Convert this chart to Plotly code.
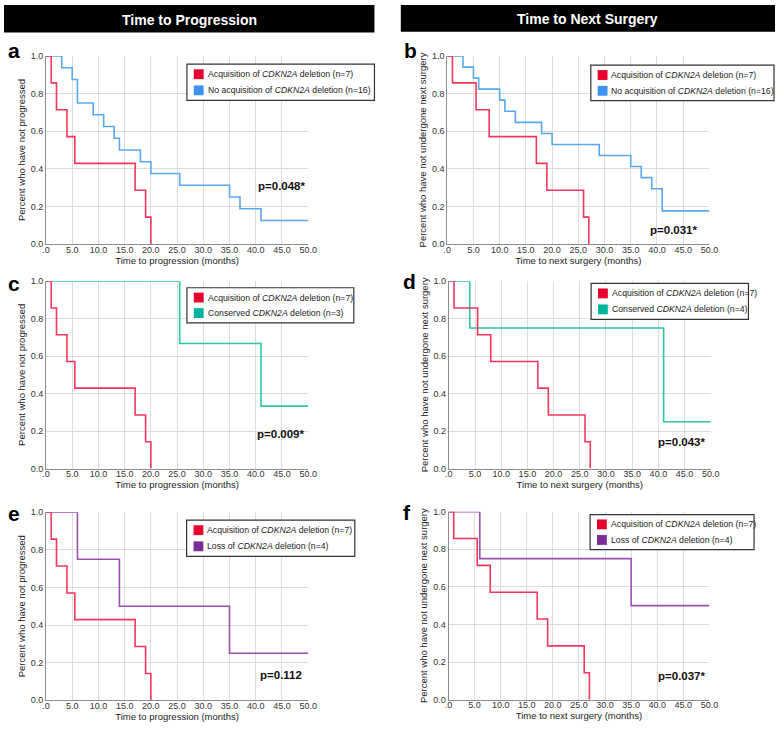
import plotly.graph_objects as go

W, H = 784, 729

# ---------------- data ----------------
x_ticks = [0, 5, 10, 15, 20, 25, 30, 35, 40, 45, 50]
x_ticklabels = [".0", "5.0", "10.0", "15.0", "20.0", "25.0", "30.0", "35.0", "40.0", "45.0", "50.0"]
y_ticks = [0.0, 0.2, 0.4, 0.6, 0.8, 1.0]
y_ticklabels = ["0.0", "0.2", "0.4", "0.6", "0.8", "1.0"]

# Time to progression
prog_acq_time = [0, 1, 2, 4, 5.5, 17, 19, 20]
prog_acq_surv = [1.0, 0.857, 0.714, 0.571, 0.429, 0.286, 0.143, 0.0]
prog_noacq_time = [0, 3, 5, 6, 9, 11, 13, 14, 18, 20, 25.5, 35, 37, 41, 50]
prog_noacq_surv = [1.0, 0.9375, 0.875, 0.75, 0.6875, 0.625, 0.5625, 0.5, 0.4375, 0.375, 0.3125, 0.25, 0.1875, 0.125, 0.125]
prog_cons_time = [0, 25.5, 41, 50]
prog_cons_surv = [1.0, 0.667, 0.333, 0.333]
prog_loss_time = [0, 6, 14, 35, 50]
prog_loss_surv = [1.0, 0.75, 0.5, 0.25, 0.25]

# Time to next surgery
surg_acq_time = [0, 1, 5.5, 8, 17, 19, 26, 27]
surg_acq_surv = [1.0, 0.857, 0.714, 0.571, 0.429, 0.286, 0.143, 0.0]
surg_noacq_time = [0, 3, 5, 6, 10, 11, 13, 18, 20, 29, 35, 37, 39, 41, 50]
surg_noacq_surv = [1.0, 0.941, 0.882, 0.824, 0.765, 0.706, 0.647, 0.588, 0.529, 0.471, 0.412, 0.353, 0.294, 0.176, 0.176]
surg_cons_time = [0, 4, 41, 50]
surg_cons_surv = [1.0, 0.75, 0.25, 0.25]
surg_loss_time = [0, 6, 35, 50]
surg_loss_surv = [1.0, 0.75, 0.5, 0.5]

label_acq = "Acquisition of <i>CDKN2A</i> deletion (n=7)"
label_noacq = "No acquisition of <i>CDKN2A</i> deletion (n=16)"
label_cons3 = "Conserved <i>CDKN2A</i> deletion (n=3)"
label_cons4 = "Conserved <i>CDKN2A</i> deletion (n=4)"
label_loss = "Loss of <i>CDKN2A</i> deletion (n=4)"

p_values = ["p=0.048*", "p=0.031*", "p=0.009*", "p=0.043*", "p=0.112", "p=0.037*"]
panel_letters = ["a", "b", "c", "d", "e", "f"]
headers = ["Time to Progression", "Time to Next Surgery"]
ytitle_prog = "Percent who have not progressed"
ytitle_surg = "Percent who have not undergone next surgery"
xtitle_prog = "Time to progression (months)"
xtitle_surg = "Time to next surgery (months)"

# ---------------- styles ----------------
RED_L, RED_S = "#f3375c", "#e6002d"
BLUE_L, BLUE_S = "#5aa8f0", "#3b95ee"
TEAL_L, TEAL_S = "#2cc5aa", "#00b49b"
PURP_L, PURP_S = "#9a4fb2", "#7a2c97"
FONT = "Liberation Sans, Arial, sans-serif"

def px(x):
    return x / W

def py(y):
    return 1 - y / H

# plot-area boxes (pixels): x0, x1, y0(top), y1(bottom)
boxes = [
    (42.7, 309.3, 51.7, 242.3),
    (450.7, 717.3, 51.7, 242.3),
    (42.7, 309.3, 280.0, 470.0),
    (452.3, 718.7, 280.0, 470.0),
    (42.7, 309.3, 514.3, 705.0),
    (452.0, 717.3, 513.7, 704.3),
]

panels = [
    [(prog_acq_time, prog_acq_surv, RED_L, RED_S, label_acq), (prog_noacq_time, prog_noacq_surv, BLUE_L, BLUE_S, label_noacq)],
    [(surg_acq_time, surg_acq_surv, RED_L, RED_S, label_acq), (surg_noacq_time, surg_noacq_surv, BLUE_L, BLUE_S, label_noacq)],
    [(prog_acq_time, prog_acq_surv, RED_L, RED_S, label_acq), (prog_cons_time, prog_cons_surv, TEAL_L, TEAL_S, label_cons3)],
    [(surg_acq_time, surg_acq_surv, RED_L, RED_S, label_acq), (surg_cons_time, surg_cons_surv, TEAL_L, TEAL_S, label_cons4)],
    [(prog_acq_time, prog_acq_surv, RED_L, RED_S, label_acq), (prog_loss_time, prog_loss_surv, PURP_L, PURP_S, label_loss)],
    [(surg_acq_time, surg_acq_surv, RED_L, RED_S, label_acq), (surg_loss_time, surg_loss_surv, PURP_L, PURP_S, label_loss)],
]

# legend boxes (pixels): x0, x1, y0, y1
legend_boxes = [
    (186.0, 376.7, 60.0, 96.7),
    (596.7, 783.0, 61.0, 97.0),
    (186.0, 355.7, 286.7, 322.3),
    (597.0, 757.0, 282.3, 318.7),
    (185.7, 356.7, 522.3, 559.0),
    (596.0, 762.7, 516.7, 552.3),
]
# p-value anchor (right x, center y)
p_pos = [(309.3, 184.0), (708.0, 228.0), (308.3, 435.0), (716.0, 443.0), (305.0, 679.5), (716.0, 680.0)]
letter_pos = [(2, 46), (405, 46), (2, 282), (404, 280), (2, 516), (404, 515)]

fig = go.Figure()
layout = dict(
    width=W, height=H, autosize=False,
    margin=dict(l=0, r=0, t=0, b=0),
    paper_bgcolor="white", plot_bgcolor="white",
    showlegend=False,
    font=dict(family=FONT, size=9, color="#222"),
)
shapes = []
annotations = []

for i, (box, series) in enumerate(zip(boxes, panels)):
    n = i + 1
    xa = "xaxis" if n == 1 else f"xaxis{n}"
    ya = "yaxis" if n == 1 else f"yaxis{n}"
    xref = "x" if n == 1 else f"x{n}"
    yref = "y" if n == 1 else f"y{n}"
    x0, x1, y0, y1 = box
    is_prog = (i % 2 == 0)
    layout[xa] = dict(
        domain=[px(x0), px(x1)], anchor=yref, range=[0, 50],
        tickvals=x_ticks, ticktext=x_ticklabels,
        showgrid=True, gridcolor="#dcdcdc", gridwidth=1,
        showline=True, linecolor="#8c8c8c", linewidth=1,
        zeroline=False, ticks="", ticklen=0, ticklabelstandoff=-3,
        tickfont=dict(size=9, color="#333"),
        title=dict(text=xtitle_prog if is_prog else xtitle_surg, font=dict(size=9.5, color="#222"), standoff=0),
        fixedrange=True,
    )
    layout[ya] = dict(
        domain=[py(y1), py(y0)], anchor=xref, range=[0, 1],
        tickvals=y_ticks, ticktext=y_ticklabels,
        showgrid=True, gridcolor="#dcdcdc", gridwidth=1,
        showline=True, linecolor="#8c8c8c", linewidth=1,
        zeroline=False, ticks="", ticklen=0,
        tickfont=dict(size=9, color="#333"),
        title=dict(text=ytitle_prog if is_prog else ytitle_surg, font=dict(size=9.5, color="#222"), standoff=3),
        fixedrange=True,
    )
    # draw second series first, red on top
    for t, s, lc, sc, name in reversed(series):
        fig.add_trace(go.Scatter(
            x=t, y=s, mode="lines", line=dict(color=lc, width=1.6, shape="hv"),
            name=name, xaxis=xref, yaxis=yref, cliponaxis=False,
        ))
    # legend box
    lx0, lx1, ly0, ly1 = legend_boxes[i]
    shapes.append(dict(type="rect", xref="paper", yref="paper",
                       x0=px(lx0), x1=px(lx1), y0=py(ly1), y1=py(ly0),
                       line=dict(color="#333333", width=1.2), fillcolor="white", layer="above"))
    row_h = (ly1 - ly0) / 2.0
    for k, (t, s, lc, sc, name) in enumerate(series):
        cy = ly0 + row_h * (k + 0.5) + (1 if k == 0 else -1)
        shapes.append(dict(type="rect", xref="paper", yref="paper",
                           x0=px(lx0 + 7), x1=px(lx0 + 17), y0=py(cy + 5), y1=py(cy - 5),
                           line=dict(width=0), fillcolor=sc, layer="above"))
        annotations.append(dict(text=name, xref="paper", yref="paper",
                                x=px(lx0 + 19), y=py(cy), xanchor="left", yanchor="middle",
                                showarrow=False, font=dict(size=8.7, color="#222", family=FONT)))
    # p-value
    prx, pry = p_pos[i]
    annotations.append(dict(text=f"<b>{p_values[i]}</b>", xref="paper", yref="paper",
                            x=px(prx), y=py(pry), xanchor="right", yanchor="middle",
                            showarrow=False, font=dict(size=11.5, color="#111", family=FONT)))
    lxp, lyp = letter_pos[i]
    annotations.append(dict(text=f"<b>{panel_letters[i]}</b>", xref="paper", yref="paper",
                            x=px(lxp), y=py(lyp), xanchor="left", yanchor="middle",
                            showarrow=False, font=dict(size=21, color="#000", family=FONT)))

# headers
header_boxes = [(0, 376.7, 0, 28), (403.5, 784, 0, 27)]
for (hx0, hx1, hy0, hy1), txt in zip(header_boxes, headers):
    shapes.append(dict(type="rect", xref="paper", yref="paper",
                       x0=px(hx0), x1=px(hx1), y0=py(hy1), y1=py(hy0),
                       line=dict(width=0), fillcolor="#000000", layer="above"))
    annotations.append(dict(text=f"<b>{txt}</b>", xref="paper", yref="paper",
                            x=px((hx0 + hx1) / 2), y=py((hy0 + hy1) / 2 + 1),
                            xanchor="center", yanchor="middle", showarrow=False,
                            font=dict(size=14, color="white", family=FONT)))

layout["shapes"] = shapes
layout["annotations"] = annotations
fig.update_layout(**layout)
fig.write_html(
    "out.html",
    config={"displayModeBar": False},
    post_script="document.body.style.margin='0';document.body.style.padding='0';document.body.style.overflow='hidden';",
)
